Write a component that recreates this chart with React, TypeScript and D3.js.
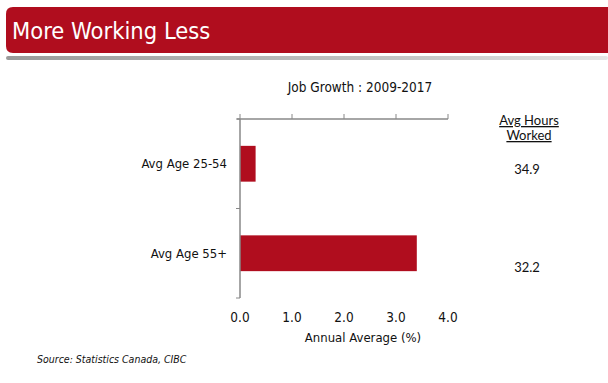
import React from "react";
import * as d3 from "d3";

const categories = ["Avg Age 25-54", "Avg Age 55+"];
const growthValues = [0.3, 3.4];
const hoursWorked = ["34.9", "32.2"];
const xTicks = [0, 1, 2, 3, 4];

const RED = "#B00D1E";
const FONT = "'DejaVu Sans Condensed', 'DejaVu Sans', sans-serif";

export default function App() {
  const W = 608, H = 383;
  const x = d3.scaleLinear().domain([0, 4]).range([240, 448]);
  const y = d3.scaleBand().domain(categories).range([119, 298]).paddingInner(0.6).paddingOuter(0.3);
  const band = d3.scaleBand().domain(categories).range([119, 298]);
  const boundaries = [119, ...categories.map((c) => (band(c) as number) + band.bandwidth())];

  return (
    <svg width={W} height={H} style={{ position: "absolute", left: 0, top: 0 }} fontFamily={FONT}>
      <defs>
        <linearGradient id="grayBar" x1="0" x2="1" y1="0" y2="0">
          <stop offset="0" stopColor="#9a9a9a" />
          <stop offset="0.7" stopColor="#c8c8c8" />
          <stop offset="1" stopColor="#e6e6e6" />
        </linearGradient>
      </defs>
      <rect x={0} y={0} width={W} height={H} fill="#fff" />
      {/* banner */}
      <path d={`M${6 + 7},7 H${W} V53 H${6 + 7} Q6,53 6,46 V14 Q6,7 ${13},7 Z`} fill={RED} />
      <rect x={6} y={56} width={W - 6} height={4} fill="url(#grayBar)" rx={2} />
      <text x={12} y={39} fill="#fff" fontSize={23.5} fontFamily={FONT}>More Working Less</text>

      {/* chart title */}
      <text x={360} y={92} textAnchor="middle" fontSize={13.5} fill="#111">Job Growth : 2009-2017</text>

      {/* bars */}
      {categories.map((c, i) => (
        <rect key={c} x={x(0)} y={y(c) as number} width={x(growthValues[i]) - x(0)} height={y.bandwidth()} fill={RED} />
      ))}

      {/* top axis */}
      <line x1={237} x2={x(4)} y1={119} y2={119} stroke="#888" strokeWidth={1.5} />
      {xTicks.map((t) => (
        <line key={t} x1={x(t)} x2={x(t)} y1={119} y2={114} stroke="#888" strokeWidth={1} />
      ))}
      {/* left axis */}
      <line x1={240} x2={240} y1={119} y2={298} stroke="#888" strokeWidth={1.5} />
      {boundaries.map((b, i) => (
        <line key={i} x1={236} x2={240} y1={b} y2={b} stroke="#888" strokeWidth={1} />
      ))}

      {/* category labels */}
      {categories.map((c) => (
        <text key={c} x={227} y={(y(c) as number) + y.bandwidth() / 2 + 4.5} textAnchor="end" fontSize={13} fill="#111">{c}</text>
      ))}

      {/* tick labels */}
      {xTicks.map((t) => (
        <text key={t} x={x(t)} y={322} textAnchor="middle" fontSize={13.5} fill="#111">{t.toFixed(1)}</text>
      ))}
      <text x={363} y={342} textAnchor="middle" fontSize={13} fill="#111">Annual Average (%)</text>

      {/* right column */}
      <g fontFamily="Lato, 'Liberation Sans', sans-serif" fill="#111" fontSize={13}>
        <text x={529} y={125} textAnchor="middle" textDecoration="underline">Avg Hours</text>
        <text x={529} y={140} textAnchor="middle" textDecoration="underline">Worked</text>
        {hoursWorked.map((h, i) => (
          <text key={i} x={527} y={i === 0 ? 174 : 272} textAnchor="middle">{h}</text>
        ))}
      </g>

      <text x={37} y={363} fontSize={10.5} fontStyle="italic" fill="#111">Source: Statistics Canada, CIBC</text>
    </svg>
  );
}
